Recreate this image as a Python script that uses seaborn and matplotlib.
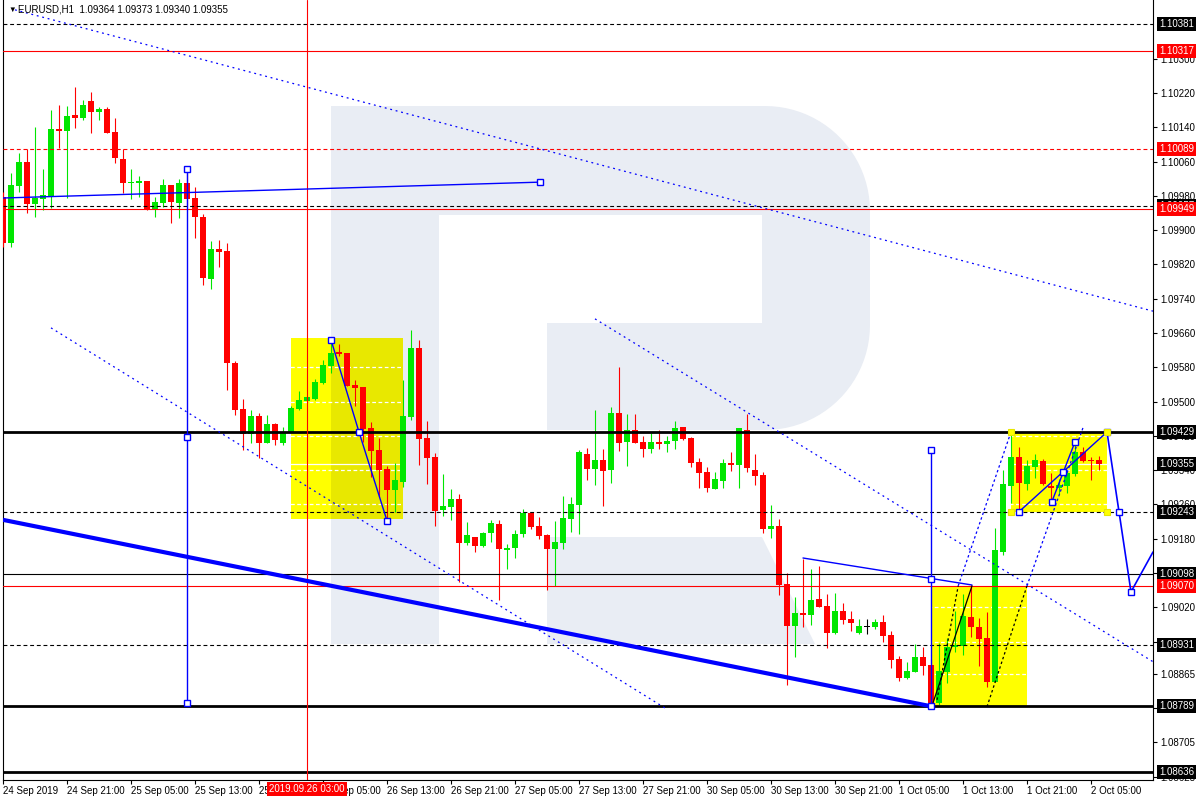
import numpy as np
import matplotlib
matplotlib.use("Agg")
import matplotlib.pyplot as plt
import matplotlib.transforms as mtransforms
from matplotlib.patches import Rectangle, Polygon
import seaborn as sns

sns.set_theme(style="white")
plt.rcParams['font.family'] = ['Liberation Sans', 'DejaVu Sans']

# EURUSD H1, bars from 24 Sep 13:00 to 2 Oct 06:00 (index = bar number)
opens = [1.09977, 1.09870, 1.10003, 1.10059, 1.09961, 1.09973, 1.09980, 1.10136, 1.10131, 1.10169,
         1.10162, 1.10201, 1.10176, 1.10183, 1.10129, 1.10066, 1.10010, 1.10010, 1.10015, 1.09947,
         1.09963, 1.10005, 1.09963, 1.10010, 1.09975, 1.09931, 1.09786, 1.09856, 1.09851, 1.09590,
         1.09483, 1.09424, 1.09466, 1.09403, 1.09448, 1.09403, 1.09429, 1.09483, 1.09501, 1.09506,
         1.09543, 1.09583, 1.09616, 1.09613, 1.09539, 1.09534, 1.09438, 1.09387, 1.09343, 1.09294,
         1.09312, 1.09464, 1.09625, 1.09415, 1.09371, 1.09247, 1.09254, 1.09273, 1.09170, 1.09184,
         1.09163, 1.09193, 1.09214, 1.09154, 1.09158, 1.09191, 1.09240, 1.09210, 1.09189, 1.09156,
         1.09170, 1.09226, 1.09259, 1.09378, 1.09343, 1.09364, 1.09340, 1.09473, 1.09406, 1.09434,
         1.09406, 1.09389, 1.09406, 1.09401, 1.09408, 1.09441, 1.09415, 1.09359, 1.09336, 1.09296,
         1.09315, 1.09357, 1.09352, 1.09434, 1.09340, 1.09329, 1.09203, 1.09210, 1.09075, 1.08977,
         1.09007, 1.09002, 1.09040, 1.09023, 1.08960, 1.09012, 1.08993, 1.08960, 1.08974, 1.08974,
         1.08986, 1.08956, 1.08900, 1.08855, 1.08869, 1.08904, 1.08886, 1.08797, 1.08869, 1.08928,
         1.08930, 1.08998, 1.08974, 1.08949, 1.08846, 1.09149, 1.09303, 1.09371, 1.09308, 1.09347,
         1.09361, 1.09303, 1.09298, 1.09303, 1.09331, 1.09383, 1.09364, 1.09364]
highs = [1.09989, 1.10033, 1.10080, 1.10089, 1.10141, 1.10043, 1.10180, 1.10192, 1.10190, 1.10234,
         1.10204, 1.10222, 1.10187, 1.10187, 1.10162, 1.10089, 1.10043, 1.10026, 1.10015, 1.09977,
         1.10019, 1.10005, 1.10019, 1.10036, 1.10001, 1.09938, 1.09875, 1.09877, 1.09870, 1.09595,
         1.09506, 1.09480, 1.09473, 1.09469, 1.09450, 1.09441, 1.09490, 1.09525, 1.09513, 1.09553,
         1.09597, 1.09644, 1.09634, 1.09613, 1.09550, 1.09534, 1.09452, 1.09415, 1.09350, 1.09357,
         1.09550, 1.09667, 1.09644, 1.09455, 1.09380, 1.09331, 1.09296, 1.09284, 1.09219, 1.09184,
         1.09196, 1.09224, 1.09224, 1.09168, 1.09200, 1.09249, 1.09242, 1.09231, 1.09191, 1.09222,
         1.09280, 1.09277, 1.09387, 1.09392, 1.09480, 1.09389, 1.09487, 1.09581, 1.09471, 1.09471,
         1.09420, 1.09427, 1.09434, 1.09420, 1.09455, 1.09441, 1.09417, 1.09368, 1.09347, 1.09336,
         1.09366, 1.09383, 1.09438, 1.09471, 1.09378, 1.09336, 1.09259, 1.09226, 1.09100, 1.09044,
         1.09133, 1.09109, 1.09117, 1.09051, 1.09054, 1.09030, 1.09012, 1.08993, 1.08993, 1.08993,
         1.09002, 1.08965, 1.08907, 1.08893, 1.08935, 1.08928, 1.08900, 1.08937, 1.08949, 1.09012,
         1.09051, 1.09072, 1.08995, 1.09009, 1.09205, 1.09340, 1.09422, 1.09394, 1.09364, 1.09378,
         1.09366, 1.09333, 1.09319, 1.09340, 1.09403, 1.09394, 1.09371, 1.09373]
lows = [1.09861, 1.09861, 1.09989, 1.09940, 1.09931, 1.09947, 1.09952, 1.10092, 1.09975, 1.10138,
        1.10157, 1.10127, 1.10157, 1.10127, 1.10057, 1.09987, 1.09973, 1.09977, 1.09947, 1.09931,
        1.09954, 1.09917, 1.09928, 1.09959, 1.09882, 1.09772, 1.09763, 1.09814, 1.09527, 1.09469,
        1.09387, 1.09403, 1.09368, 1.09403, 1.09399, 1.09399, 1.09429, 1.09480, 1.09499, 1.09504,
        1.09541, 1.09567, 1.09606, 1.09536, 1.09490, 1.09406, 1.09324, 1.09277, 1.09224, 1.09242,
        1.09301, 1.09457, 1.09352, 1.09308, 1.09210, 1.09233, 1.09224, 1.09079, 1.09165, 1.09149,
        1.09161, 1.09172, 1.09037, 1.09109, 1.09135, 1.09184, 1.09203, 1.09180, 1.09061, 1.09070,
        1.09156, 1.09196, 1.09191, 1.09317, 1.09306, 1.09256, 1.09310, 1.09385, 1.09350, 1.09403,
        1.09371, 1.09380, 1.09389, 1.09383, 1.09389, 1.09410, 1.09347, 1.09298, 1.09289, 1.09296,
        1.09298, 1.09338, 1.09298, 1.09336, 1.09306, 1.09193, 1.09182, 1.09049, 1.08839, 1.08904,
        1.08974, 1.08979, 1.09021, 1.08925, 1.08958, 1.08981, 1.08965, 1.08958, 1.08958, 1.08970,
        1.08939, 1.08879, 1.08848, 1.08853, 1.08869, 1.08862, 1.08789, 1.08792, 1.08844, 1.08916,
        1.08909, 1.08951, 1.08883, 1.08834, 1.08846, 1.09142, 1.09264, 1.09242, 1.09294, 1.09322,
        1.09306, 1.09270, 1.09284, 1.09287, 1.09327, 1.09359, 1.09317, 1.09340]
closes = [1.09870, 1.10005, 1.10059, 1.09961, 1.09975, 1.09982, 1.10136, 1.10131, 1.10166, 1.10162,
          1.10192, 1.10176, 1.10183, 1.10127, 1.10068, 1.10010, 1.10012, 1.10015, 1.09947, 1.09966,
          1.10005, 1.09966, 1.10010, 1.09973, 1.09931, 1.09788, 1.09856, 1.09849, 1.09590, 1.09480,
          1.09424, 1.09466, 1.09403, 1.09448, 1.09410, 1.09429, 1.09485, 1.09504, 1.09511, 1.09546,
          1.09585, 1.09613, 1.09611, 1.09536, 1.09532, 1.09436, 1.09385, 1.09340, 1.09294, 1.09317,
          1.09466, 1.09625, 1.09413, 1.09368, 1.09245, 1.09256, 1.09273, 1.09170, 1.09189, 1.09163,
          1.09193, 1.09217, 1.09156, 1.09158, 1.09191, 1.09240, 1.09207, 1.09186, 1.09156, 1.09172,
          1.09229, 1.09261, 1.09383, 1.09343, 1.09364, 1.09338, 1.09473, 1.09403, 1.09434, 1.09403,
          1.09389, 1.09406, 1.09401, 1.09408, 1.09438, 1.09413, 1.09357, 1.09333, 1.09298, 1.09319,
          1.09357, 1.09352, 1.09438, 1.09345, 1.09327, 1.09203, 1.09210, 1.09072, 1.08977, 1.09007,
          1.09002, 1.09037, 1.09021, 1.08960, 1.09012, 1.08991, 1.08984, 1.08977, 1.08974, 1.08986,
          1.08953, 1.08897, 1.08855, 1.08872, 1.08904, 1.08883, 1.08797, 1.08872, 1.08928, 1.08932,
          1.09000, 1.08974, 1.08946, 1.08846, 1.09154, 1.09308, 1.09371, 1.09310, 1.09350, 1.09364,
          1.09308, 1.09298, 1.09306, 1.09333, 1.09383, 1.09361, 1.09361, 1.09355]

x_ticks = list(range(0, 137, 8))
x_tick_labels = ["24 Sep 2019", "24 Sep 21:00", "25 Sep 05:00", "25 Sep 13:00", "25 Sep 21:00",
                 "26 Sep 05:00", "26 Sep 13:00", "26 Sep 21:00", "27 Sep 05:00", "27 Sep 13:00",
                 "27 Sep 21:00", "30 Sep 05:00", "30 Sep 13:00", "30 Sep 21:00", "1 Oct 05:00",
                 "1 Oct 13:00", "1 Oct 21:00", "2 Oct 05:00"]
y_ticks = [1.10300, 1.10220, 1.10140, 1.10060, 1.09980, 1.09900, 1.09820, 1.09740, 1.09660,
           1.09580, 1.09500, 1.09420, 1.09340, 1.09260, 1.09180, 1.09100, 1.09020, 1.08940,
           1.08865, 1.08785, 1.08705, 1.08625]
# scale labels fully hidden behind price tags
y_hidden = [1.09100, 1.08940, 1.08785]

# horizontal levels
level_prices = [1.10381, 1.10317, 1.10089, 1.09957, 1.09949, 1.09429, 1.09243, 1.09098, 1.09070,
                1.08931, 1.08789, 1.08636]
level_colors = ['black', 'red', 'red', 'black', 'red', 'black', 'black', 'black', 'red',
                'black', 'black', 'black']
level_styles = ['--', '-', '--', '--', '-', '-', '--', '-', '-', '--', '-', '-']
level_widths = [0.8, 0.8, 0.8, 0.8, 0.8, 2.0, 0.8, 0.8, 0.8, 0.8, 2.0, 2.0]
bid_price = 1.09355

# yellow boxes (bar from, bar to, low, high)
box_x0 = [36, 116, 126]
box_x1 = [50, 128, 138]
box_lo = [1.09226, 1.08789, 1.09243]
box_hi = [1.09648, 1.09070, 1.09429]

cross_bar = 38
cross_label = "2019.09.26 03:00"
header = "EURUSD,H1  1.09364 1.09373 1.09340 1.09355"

fig = plt.figure(figsize=(12, 8), dpi=100)
ax = fig.add_axes([3 / 1200, 20 / 800, 1150 / 1200, 780 / 800])
ax.set_facecolor('white')
ax.set_xlim(0, 143.75)
ax.set_ylim(1.08617, 1.10437)

# watermark logo (figure pixel space)
px = mtransforms.Affine2D().scale(1 / 1200, -1 / 800).translate(0, 1) + fig.transFigure
wm = '#e9edf4'
t1 = np.linspace(-np.pi / 2, 0, 24)
t2 = np.linspace(0, np.pi / 2, 24)
bowl = ([(439, 106)] + list(zip(765 + 105 * np.cos(t1), 211 + 105 * np.sin(t1)))
        + list(zip(765 + 105 * np.cos(t2), 325 + 105 * np.sin(t2)))
        + [(547, 430), (547, 323), (762, 323), (762, 215), (439, 215)])
stem = [(331, 106), (439, 106), (439, 644), (331, 644)]
leg = [(547, 537), (762, 537), (815, 644), (547, 644)]
for pts in (stem, bowl, leg):
    ax.add_patch(Polygon(pts, closed=True, fc=wm, ec='none', transform=px, zorder=0.5))

# yellow boxes
rects = []
for a, b, lo, hi in zip(box_x0, box_x1, box_lo, box_hi):
    r = Rectangle((a, lo), b - a, hi - lo, fc='#ffff00', ec='none', zorder=1)
    ax.add_patch(r)
    rects.append(r)
shade = Polygon(stem, closed=True, fc='#e8e800', ec='none', transform=px, zorder=1.1)
ax.add_patch(shade)
shade.set_clip_path(rects[0])

# white grid and bid line: only seen where they cross the yellow boxes
for r in rects:
    for yv in y_ticks:
        ln = ax.axhline(yv, color='white', lw=0.9, ls=(0, (3, 2)), zorder=1.5)
        ln.set_clip_path(r)
    ln = ax.axhline(bid_price, color='white', lw=0.9, zorder=1.5)
    ln.set_clip_path(r)

# candles
o = np.array(opens); h = np.array(highs); l = np.array(lows); c = np.array(closes)
xs = np.arange(len(o))
cols = np.where(c > o, '#00e600', np.where(c < o, '#ff0000', '#000000'))
ax.vlines(xs, l, h, colors=cols, lw=0.8, zorder=3)
ax.bar(xs, np.maximum(np.abs(c - o), 0.00003), bottom=np.minimum(o, c), width=0.7,
       color=cols, lw=0, zorder=3)

# horizontal levels
for p, col, ls, lw in zip(level_prices, level_colors, level_styles, level_widths):
    if ls == '--':
        ls = (0, (3.5, 2.5))
    ax.axhline(p, color=col, ls=ls, lw=lw, zorder=4)

ax.axvline(cross_bar, color='red', lw=0.8, zorder=4)

blue = '#0000ff'
dot = (0, (1.5, 3))
# trend channel
ax.plot([1.5, 143.75], [1.10414, 1.09711], color=blue, lw=0.9, ls=dot, zorder=4)
ax.plot([6, 82.75], [1.09672, 1.08785], color=blue, lw=0.9, ls=dot, zorder=4)
ax.plot([74, 143.75], [1.09693, 1.08893], color=blue, lw=0.9, ls=dot, zorder=4)
ax.plot([0, 116], [1.09224, 1.08789], color=blue, lw=3.0, zorder=4, solid_capstyle='butt')
ax.plot([0, 67.1], [1.09975, 1.10012], color=blue, lw=1.0, zorder=4)
ax.plot([23, 23], [1.10043, 1.08797], color=blue, lw=1.0, zorder=4)
ax.plot([116, 116], [1.09387, 1.08789], color=blue, lw=1.0, zorder=4)
ax.plot([41, 44.5, 48], [1.09644, 1.09429, 1.09222], color=blue, lw=1.0, zorder=4)
ax.plot([100, 121.125], [1.09135, 1.09072], color=blue, lw=1.0, zorder=4)
ax.plot([116.25, 121.125], [1.08797, 1.09070], color='black', lw=0.9, zorder=4)
ax.plot([116.75, 119.4], [1.08804, 1.09070], color='black', lw=0.9, ls=(0, (2, 2)), zorder=4)
ax.plot([123, 128], [1.08788, 1.09070], color='black', lw=0.9, ls=(0, (2, 2)), zorder=4)
ax.plot([119.4, 126], [1.09070, 1.09429], color=blue, lw=0.9, ls=(0, (2, 2)), zorder=4)
ax.plot([128, 135], [1.09070, 1.09439], color=blue, lw=0.9, ls=(0, (2, 2)), zorder=4)
ax.plot([127, 138], [1.09243, 1.09429], color=blue, lw=1.0, zorder=4)
ax.plot([131.1, 134], [1.09266, 1.09406], color=blue, lw=1.0, zorder=4)

# forecast path
proj_x = [138, 139.5, 141, 143.75]
proj_y = [1.09429, 1.09243, 1.09056, 1.09149]
sns.lineplot(x=proj_x, y=proj_y, ax=ax, color=blue, lw=1.2, estimator=None, sort=False, zorder=4)

sq_x = [23, 23, 23, 67.1, 41, 44.5, 48, 116, 116, 116, 127, 131.1, 132.5, 134, 138, 139.5, 141]
sq_y = [1.10043, 1.09418, 1.08797, 1.10012, 1.09644, 1.09429, 1.09222, 1.09387, 1.09086,
        1.08789, 1.09243, 1.09266, 1.09336, 1.09406, 1.09429, 1.09243, 1.09056]
ax.plot(sq_x, sq_y, ls='none', marker='s', ms=4.5, mfc='white', mec=blue, mew=1.0, zorder=5)
ax.plot([126, 138, 126, 138], [1.09429, 1.09429, 1.09243, 1.09243], ls='none', marker='s',
        ms=4.5, mfc='#ffff00', mec='#e6e600', mew=0.8, zorder=5)

# axes styling
ax.spines['top'].set_visible(False)
for side in ['left', 'right', 'bottom']:
    ax.spines[side].set_color('black')
    ax.spines[side].set_linewidth(0.8)
ax.grid(False)
ax.yaxis.tick_right()
ax.set_yticks(y_ticks)
ax.set_yticklabels(["" if v in y_hidden else f"{v:.5f}" for v in y_ticks])
ax.set_xticks(x_ticks)
ax.set_xticklabels(x_tick_labels, ha='left')
ax.tick_params(axis='y', which='both', right=True, left=False, direction='out', length=3,
               width=0.8, pad=2.5, labelsize=7, colors='black')
ax.tick_params(axis='x', which='both', bottom=True, direction='out', length=3, width=0.8,
               pad=1.5, labelsize=7, colors='black')

# price tags on the right scale
tag_prices = [1.10381, 1.10317, 1.10089, 1.09957, 1.09949, 1.09429, 1.09355, 1.09243, 1.09098,
              1.09070, 1.08931, 1.08789, 1.08636]
tag_colors = ['black', 'red', 'red', 'black', 'red', 'black', 'black', 'black', 'black',
              'red', 'black', 'black', 'black']
ytr = mtransforms.blended_transform_factory(ax.transAxes, ax.transData)
for p, col in zip(tag_prices, tag_colors):
    ax.text(1.0 + 6 / 1150, p, f"{p:.5f}", transform=ytr, ha='left', va='center',
            fontsize=7, color='white', zorder=10, clip_on=False,
            bbox=dict(boxstyle='square,pad=0.2', fc=col, ec='none'))

ax.annotate(cross_label, xy=(cross_bar, 0), xycoords=('data', 'axes fraction'),
            xytext=(0, -6.6), textcoords='offset points', ha='center', va='center',
            fontsize=7, color='white', zorder=10, annotation_clip=False,
            bbox=dict(boxstyle='square,pad=0.2', fc='red', ec='none'))

fig.text(8 / 1200, 1 - 10 / 800, "▼", fontsize=5.5, color='black', va='center', ha='left')
fig.text(18 / 1200, 1 - 10 / 800, header, fontsize=7, color='black', va='center', ha='left')

fig.savefig("out.png", dpi=100, facecolor='white')
